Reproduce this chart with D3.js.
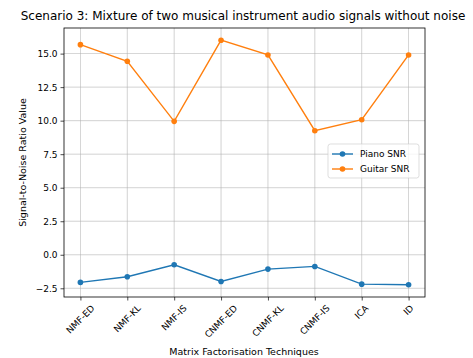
<!DOCTYPE html>
<html><head><meta charset="utf-8">
<script src="https://cdn.jsdelivr.net/npm/d3@7"></script>
<style>body{margin:0;background:#fff}svg{display:block;font-family:"DejaVu Sans",sans-serif}</style>
</head><body><svg id="c" width="473" height="358"></svg>
<script>
const categories = ["NMF-ED","NMF-KL","NMF-IS","CNMF-ED","CNMF-KL","CNMF-IS","ICA","ID"];
const pianoSNR = [-2.06,-1.64,-0.75,-1.99,-1.07,-0.87,-2.19,-2.24];
const guitarSNR = [15.67,14.43,9.95,16.0,14.9,9.25,10.07,14.9];
const yTicks = [-2.5,0,2.5,5,7.5,10,12.5,15];
const seriesNames = ["Piano SNR","Guitar SNR"];
const colors = ["#1f77b4","#ff7f0e"];

const svg = d3.select("#c");
const L=64,R=425,T=28,B=297;
const x = d3.scaleLinear().domain([-0.35,7.35]).range([L,R]);
const y = d3.scaleLinear().domain([-3.15,16.91]).range([B,T]);

// grid
const g = svg.append("g");
g.selectAll(".gx").data(categories).enter().append("line")
 .attr("x1",(d,i)=>x(i)).attr("x2",(d,i)=>x(i)).attr("y1",T).attr("y2",B)
 .attr("stroke","#b0b0b0").attr("stroke-width",0.7).attr("opacity",0.8);
g.selectAll(".gy").data(yTicks).enter().append("line")
 .attr("y1",d=>y(d)).attr("y2",d=>y(d)).attr("x1",L).attr("x2",R)
 .attr("stroke","#b0b0b0").attr("stroke-width",0.7).attr("opacity",0.8);

// axes
const fmt = d=>d3.format(".1f")(d).replace("-","\u2212");
const ya = svg.append("g").attr("transform",`translate(${L},0)`)
 .call(d3.axisLeft(y).tickValues(yTicks).tickFormat(fmt).tickSize(3.5).tickPadding(3));
ya.select(".domain").remove();
ya.selectAll("text").attr("font-size",9).attr("font-family","DejaVu Sans").attr("fill","#000");
ya.selectAll("line").attr("stroke","#000").attr("stroke-width",0.7);

const xa = svg.append("g").attr("transform",`translate(0,${B})`)
 .call(d3.axisBottom(x).tickValues(d3.range(categories.length)).tickFormat(()=> "").tickSize(3.5));
xa.select(".domain").remove();
xa.selectAll("line").attr("stroke","#000").attr("stroke-width",0.7);

// rotated x labels (center aligned bbox)
categories.forEach((c,i)=>{
  const t = svg.append("text").text(c).attr("font-size",9).attr("fill","#000")
    .attr("text-anchor","middle").attr("dominant-baseline","central");
  const len = t.node().getComputedTextLength();
  const h = (len+9)*Math.SQRT1_2;
  t.attr("transform",`translate(${x(i)},${B+6.5+h/2}) rotate(-45)`);
});

// frame
svg.append("rect").attr("x",L).attr("y",T).attr("width",R-L).attr("height",B-T)
 .attr("fill","none").attr("stroke","#000").attr("stroke-width",0.8);

// lines
[pianoSNR,guitarSNR].forEach((s,k)=>{
  svg.append("path").datum(s).attr("fill","none").attr("stroke",colors[k]).attr("stroke-width",1.4)
   .attr("d",d3.line().x((d,i)=>x(i)).y(d=>y(d)));
  svg.selectAll(null).data(s).enter().append("circle")
   .attr("cx",(d,i)=>x(i)).attr("cy",d=>y(d)).attr("r",2.8).attr("fill",colors[k]);
});

// legend
const lg = svg.append("g");
lg.append("rect").attr("x",328).attr("y",144).attr("width",91).attr("height",34).attr("rx",2.5)
 .attr("fill","#fff").attr("fill-opacity",0.8).attr("stroke","#d0d0d0").attr("stroke-width",0.7);
seriesNames.forEach((n,k)=>{
  const yy = 154+k*15;
  lg.append("line").attr("x1",332).attr("x2",353).attr("y1",yy).attr("y2",yy).attr("stroke",colors[k]).attr("stroke-width",1.4);
  lg.append("circle").attr("cx",342.5).attr("cy",yy).attr("r",2.8).attr("fill",colors[k]);
  lg.append("text").attr("x",360).attr("y",yy).attr("dy","0.35em").attr("font-size",9).text(n);
});

// titles
svg.append("text").attr("x",243).attr("y",20).attr("text-anchor","middle").attr("font-size",12).text("Scenario 3: Mixture of two musical instrument audio signals without noise");
svg.append("text").attr("x",244).attr("y",355).attr("text-anchor","middle").attr("font-size",9.5).text("Matrix Factorisation Techniques");
svg.append("text").attr("transform",`translate(26,${(T+B)/2}) rotate(-90)`).attr("text-anchor","middle").attr("font-size",9.5).text("Signal-to-Noise Ratio Value");
</script></body></html>
